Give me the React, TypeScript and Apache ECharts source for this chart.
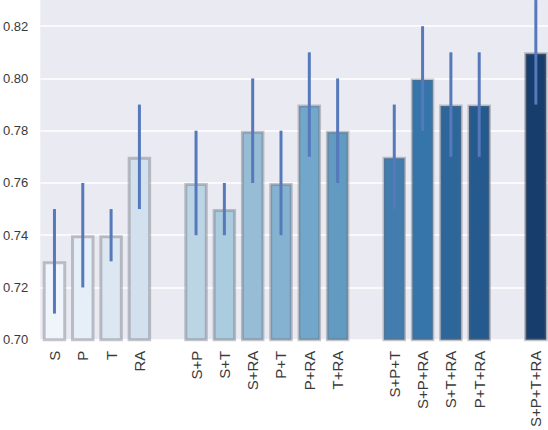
import React, { useEffect, useRef } from 'react';
import * as echarts from 'echarts';

const categories = ['S', 'P', 'T', 'RA', '', 'S+P', 'S+T', 'S+RA', 'P+T', 'P+RA', 'T+RA', '', 'S+P+T', 'S+P+RA', 'S+T+RA', 'P+T+RA', '', 'S+P+T+RA'];
const means = [0.73, 0.74, 0.74, 0.77, null, 0.76, 0.75, 0.78, 0.76, 0.79, 0.78, null, 0.77, 0.80, 0.79, 0.79, null, 0.81];
const lows = [0.71, 0.72, 0.73, 0.75, null, 0.74, 0.74, 0.76, 0.74, 0.77, 0.76, null, 0.75, 0.78, 0.77, 0.77, null, 0.79];
const highs = [0.75, 0.76, 0.75, 0.79, null, 0.78, 0.76, 0.80, 0.78, 0.81, 0.80, null, 0.79, 0.82, 0.81, 0.81, null, 0.83];
const barColors = ['#f0f5fb', '#e6eef8', '#dce7f1', '#d3e1ee', '', '#bcd5e5', '#abcbde', '#97bcd6', '#86b2d1', '#70a7cb', '#619bc1', '', '#427dad', '#3675a9', '#2d6699', '#255a8f', '', '#173d6d'];
const yTicks = [0.70, 0.72, 0.74, 0.76, 0.78, 0.80, 0.82];

export default function App() {
  const ref = useRef<HTMLDivElement>(null);
  useEffect(() => {
    if (!ref.current) return;
    const chart = echarts.init(ref.current, null, { renderer: 'svg' });
    const barData = means.map((v, i) =>
      v === null ? null : { value: v, itemStyle: { color: barColors[i] } }
    );
    const errData: any[] = [];
    lows.forEach((lo, i) => {
      if (lo !== null && highs[i] !== null) errData.push([i, lo, highs[i]]);
    });
    chart.setOption({
      animation: false,
      backgroundColor: '#ffffff',
      grid: {
        left: 38,
        right: 0,
        top: 0,
        bottom: 90,
        show: true,
        backgroundColor: '#eaeaf2',
        borderWidth: 0,
      },
      xAxis: {
        type: 'category',
        data: categories,
        boundaryGap: true,
        axisLine: { show: false },
        axisTick: { show: false },
        axisLabel: {
          interval: 0,
          rotate: 90,
          margin: 11,
          fontSize: 15,
          color: '#3a3a3a',
          fontFamily: 'Liberation Sans, Arial, sans-serif',
        },
        splitLine: { show: false },
      },
      yAxis: {
        type: 'value',
        min: 0.70,
        max: 0.835,
        interval: 0.02,
        axisLine: { show: false },
        axisTick: { show: false },
        axisLabel: {
          margin: 12,
          fontSize: 13,
          color: '#3a3a3a',
          fontFamily: 'Liberation Sans, Arial, sans-serif',
          formatter: (v: number) => {
            const hit = yTicks.find((t) => Math.abs(t - v) < 1e-6);
            return hit !== undefined ? hit.toFixed(2) : '';
          },
        },
        splitLine: { show: true, lineStyle: { color: '#ffffff', width: 1.5 } },
      },
      series: [
        {
          type: 'bar',
          data: barData,
          barWidth: 23.5,
          itemStyle: {
            borderColor: 'rgba(105,105,115,0.38)',
            borderWidth: 3,
          },
        },
        {
          type: 'custom',
          data: errData,
          encode: { x: 0, y: [1, 2] },
          renderItem: (params: any, api: any) => {
            const x = api.value(0);
            const a = api.coord([x, api.value(1)]);
            const b = api.coord([x, api.value(2)]);
            return {
              type: 'line',
              shape: { x1: a[0], y1: a[1], x2: b[0], y2: b[1] },
              style: { stroke: '#5579bb', lineWidth: 3 },
            };
          },
          z: 5,
        },
      ],
    });
    return () => chart.dispose();
  }, []);
  return (
    <div
      style={{ position: 'fixed', left: 0, top: 0, width: 548, height: 430, overflow: 'hidden' }}
    >
      <div
        ref={ref}
        style={{ position: 'absolute', left: 0, top: -13, width: 550, height: 443 }}
      />
    </div>
  );
}
